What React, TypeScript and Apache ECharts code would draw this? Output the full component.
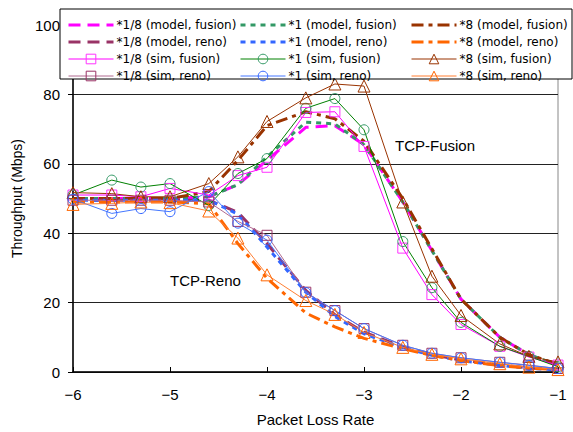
import React, { useEffect, useRef } from "react";
import * as echarts from "echarts";

const xs = [-6, -5.6, -5.3, -5, -4.6, -4.3, -4, -3.6, -3.3, -3, -2.6, -2.3, -2, -1.6, -1.3, -1];

const modelFusion18 = [50, 50, 50, 50, 50.5, 54, 61, 70.5, 71, 65.5, 49, 35, 21, 10, 5, 2];
const modelFusion1 = [50, 50, 50, 50, 50.5, 54, 62, 72, 71.5, 65.5, 49, 35, 21, 10, 5, 2];
const modelFusion8 = [50, 50, 50, 50, 52, 61, 71, 75, 73, 66.5, 50, 35.5, 21, 10, 5, 2.2];
const modelReno18 = [49.5, 49.5, 49.5, 49.5, 49.5, 46, 37, 23.5, 16.5, 11.5, 7.2, 5, 3.5, 2, 1.2, 0.7];
const modelReno1 = [49.5, 49.5, 49.5, 49.5, 49.5, 45.5, 36, 23, 16, 11, 7, 4.8, 3.3, 1.9, 1.1, 0.6];
const modelReno8 = [49, 49, 49, 49, 48.5, 37, 27, 17, 13, 9.7, 6.7, 4.8, 3.3, 1.8, 1.1, 0.7];

const simFusion18 = [51, 51, 50.5, 52.9, 51, 56.6, 59, 74.8, 75, 65, 35.7, 22.3, 13.7, 7.4, 4.3, 2];
const simFusion1 = [51, 55.3, 53.3, 54.3, 48, 57.2, 61.5, 76, 78.8, 69.8, 37.6, 24.3, 14.3, 7.4, 4.5, 1.5];
const simFusion8 = [51.7, 51.4, 50.5, 50.5, 54.3, 62, 72.2, 79, 83, 82.4, 49, 27.6, 16.3, 8.1, 4.5, 2.9];
const simReno18 = [49.5, 49.5, 49.5, 49.5, 49, 43.4, 39.4, 23, 17.7, 12.5, 7.7, 5.4, 4.1, 2.8, 2, 1];
const simReno1 = [49.8, 45.7, 47.1, 46.2, 52, 42.9, 38, 22.9, 17.7, 12.5, 7.7, 5.4, 4.1, 2.8, 1.9, 1];
const simReno8 = [48.3, 48.6, 49, 48.8, 46.4, 38.6, 28, 20.6, 16.6, 11.4, 7.1, 5.1, 3.8, 2.4, 1.4, 0.7];

const yTicks = [0, 20, 40, 60, 80, 100];
const xTicks = [-6, -5, -4, -3, -2, -1];

const pairs = (ys: number[]) => xs.map((x, i) => [x, ys[i]]);

type Def = {
  name: string;
  data: number[];
  color: string;
  lineColor?: string;
  dash?: number[] | "solid";
  width: number;
  symbol?: string;
  size?: number;
};

const modelDefs: Def[] = [
  { name: "*1/8 (model, fusion)", data: modelFusion18, color: "#FF00FF", dash: [12, 7], width: 3 },
  { name: "*1 (model, fusion)", data: modelFusion1, color: "#339966", dash: [5, 5], width: 3 },
  { name: "*8 (model, fusion)", data: modelFusion8, color: "#993300", dash: [12, 5, 4, 5], width: 3 },
  { name: "*1/8 (model, reno)", data: modelReno18, color: "#993366", dash: [12, 7], width: 3 },
  { name: "*1 (model, reno)", data: modelReno1, color: "#3366FF", dash: [5, 5], width: 3 },
  { name: "*8 (model, reno)", data: modelReno8, color: "#FF6600", dash: [12, 5, 4, 5], width: 3 },
];

const simDefs: Def[] = [
  { name: "*1/8 (sim, fusion)", data: simFusion18, color: "#FF33FF", lineColor: "#FF00FF", width: 1, symbol: "rect", size: 10 },
  { name: "*1 (sim, fusion)", data: simFusion1, color: "#339966", lineColor: "#008000", width: 1, symbol: "circle", size: 10 },
  { name: "*8 (sim, fusion)", data: simFusion8, color: "#993300", lineColor: "#993300", width: 1, symbol: "triangle", size: 12 },
  { name: "*1/8 (sim, reno)", data: simReno18, color: "#993366", lineColor: "#B06A90", width: 1, symbol: "rect", size: 10 },
  { name: "*1 (sim, reno)", data: simReno1, color: "#3366FF", lineColor: "#4477FF", width: 1, symbol: "circle", size: 10 },
  { name: "*8 (sim, reno)", data: simReno8, color: "#FF6600", lineColor: "#FF7F33", width: 1, symbol: "triangle", size: 12 },
];

export default function App() {
  const ref = useRef<HTMLDivElement>(null);
  useEffect(() => {
    document.body.style.margin = "0";
    if (!ref.current) return;
    const chart = echarts.init(ref.current, null, { renderer: "svg" });

    const series: any[] = [];
    modelDefs.forEach((d) => {
      series.push({
        type: "line",
        name: d.name,
        data: pairs(d.data),
        symbol: "none",
        z: 2,
        itemStyle: { color: d.color },
        lineStyle: { color: d.color, width: d.width, type: d.dash },
        emphasis: { disabled: true },
      });
    });
    simDefs.forEach((d) => {
      series.push({
        type: "line",
        name: d.name,
        data: pairs(d.data),
        symbol: d.symbol,
        symbolSize: d.size,
        z: 3,
        itemStyle: { color: "rgba(0,0,0,0)", borderColor: d.color, borderWidth: 1 },
        lineStyle: { color: d.lineColor, width: d.width, type: "solid" },
        emphasis: { disabled: true },
      });
    });

    const legendCol = (names: string[], left: number) => ({
      orient: "vertical",
      left,
      top: 14,
      itemWidth: 45,
      itemHeight: 12,
      itemGap: 5,
      z: 10,
      selectedMode: false,
      textStyle: { fontSize: 12, fontFamily: "DejaVu Sans", color: "#000", padding: [0, 0, 0, -2] },
      lineStyle: { width: "inherit" },
      itemStyle: { borderWidth: "inherit" },
      data: names.map((n) =>
        n.indexOf("model") >= 0 ? { name: n, itemStyle: { opacity: 0 } } : { name: n }
      ),
    });

    const option: any = {
      animation: false,
      backgroundColor: "#fff",
      textStyle: { fontFamily: "Liberation Sans" },
      grid: { left: 73, right: 15, top: 25, bottom: 57, show: true, borderColor: "#888", borderWidth: 1 },
      xAxis: {
        type: "value",
        min: xTicks[0],
        max: xTicks[xTicks.length - 1],
        interval: 1,
        name: "Packet Loss Rate",
        nameLocation: "middle",
        nameGap: 40,
        nameTextStyle: { fontSize: 15, color: "#000" },
        axisLine: { onZero: false, lineStyle: { color: "#000", width: 1.5 } },
        axisTick: { inside: true, length: 5, lineStyle: { color: "#000" } },
        axisLabel: {
          fontSize: 15,
          color: "#000",
          margin: 15,
          formatter: (v: number) => String(v).replace("-", "\u2212"),
        },
        splitLine: { show: false },
      },
      yAxis: {
        type: "value",
        min: yTicks[0],
        max: yTicks[yTicks.length - 1],
        interval: 20,
        name: "Throughput (Mbps)",
        nameLocation: "middle",
        nameGap: 48,
        nameTextStyle: { fontSize: 14, color: "#000" },
        axisLine: { lineStyle: { color: "#000", width: 1.5 } },
        axisTick: { inside: false, length: 5, lineStyle: { color: "#000" } },
        axisLabel: { fontSize: 15, color: "#000", margin: 13 },
        splitLine: { show: true, lineStyle: { color: "#222", width: 1 } },
      },
      legend: [
        legendCol(["*1/8 (model, fusion)", "*1/8 (model, reno)", "*1/8 (sim, fusion)", "*1/8 (sim, reno)"], 62),
        legendCol(["*1 (model, fusion)", "*1 (model, reno)", "*1 (sim, fusion)", "*1 (sim, reno)"], 234),
        legendCol(["*8 (model, fusion)", "*8 (model, reno)", "*8 (sim, fusion)", "*8 (sim, reno)"], 405),
      ],
      graphic: [
        {
          type: "rect",
          z: 5,
          shape: { x: 60, y: 9, width: 512, height: 70 },
          style: { fill: "#fff", stroke: "#000", lineWidth: 1 },
        },
        {
          type: "text",
          z: 5,
          x: 395,
          y: 145,
          style: { text: "TCP-Fusion", fontSize: 15, fontFamily: "Liberation Sans", fill: "#000", verticalAlign: "middle" },
        },
        {
          type: "text",
          z: 5,
          x: 170,
          y: 280,
          style: { text: "TCP-Reno", fontSize: 15, fontFamily: "Liberation Sans", fill: "#000", verticalAlign: "middle" },
        },
      ],
      series,
    };
    chart.setOption(option);
    return () => chart.dispose();
  }, []);
  return <div ref={ref} style={{ width: 573, height: 432 }} />;
}
